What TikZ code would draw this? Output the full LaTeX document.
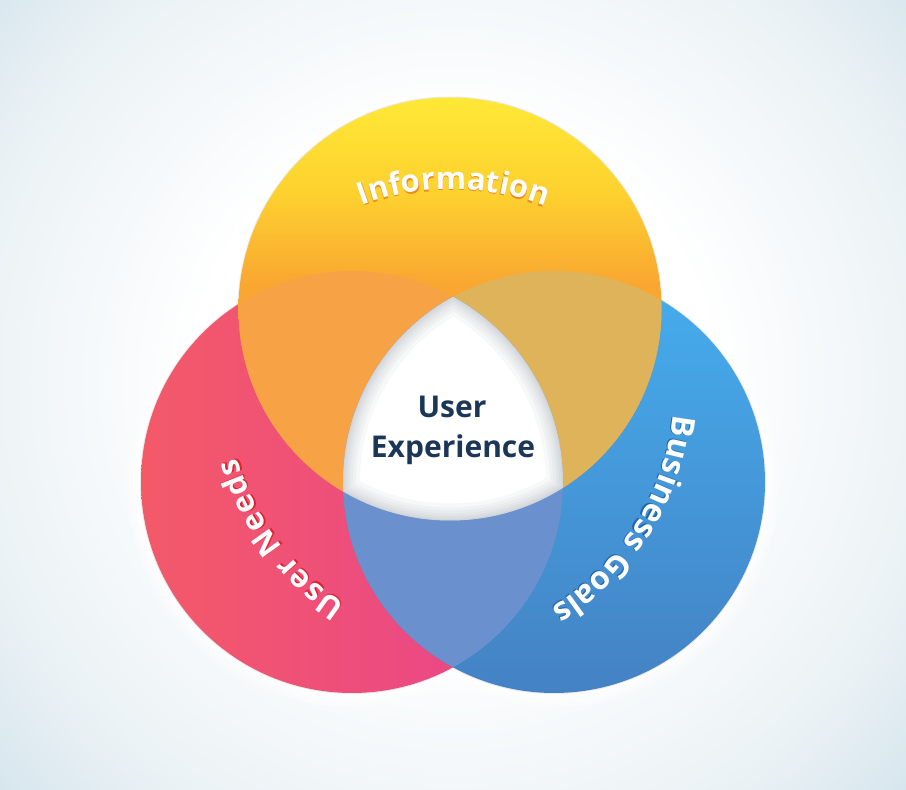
\documentclass[tikz,border=0pt]{standalone}
\usepackage{fontspec}
\newfontfamily\osans{Open Sans}
\usetikzlibrary{decorations.text,calc}
\definecolor{bgc}{HTML}{D2E3EC}
\definecolor{bgm}{HTML}{EBF2F5}
\definecolor{ttop}{HTML}{FFE836}
\definecolor{tinfo}{HTML}{FDD22F}
\definecolor{tmid}{HTML}{F9A731}
\definecolor{tbot}{HTML}{F7A02E}
\definecolor{lleft}{HTML}{F35A68}
\definecolor{lright}{HTML}{E8428F}
\definecolor{rtop}{HTML}{45AEEE}
\definecolor{rbot}{HTML}{4482C4}
\definecolor{ovtl}{HTML}{F6A245}
\definecolor{ovtr}{HTML}{DEB35A}
\definecolor{ovlr}{HTML}{6A90CE}
\definecolor{navy}{HTML}{1B3656}
\definecolor{shinfo}{HTML}{EE8A22}
\definecolor{shneeds}{HTML}{E2202E}
\definecolor{shbiz}{HTML}{1F66B0}
\definecolor{innersh}{HTML}{8E98A4}
\pgfdeclareradialshading{bgshade}{\pgfpoint{0bp}{0bp}}{color(0bp)=(white); color(10bp)=(white); color(19bp)=(bgm); color(25bp)=(bgc); color(50bp)=(bgc)}
\pgfdeclareverticalshading{tshade}{100bp}{color(0bp)=(tbot); color(25bp)=(tbot); color(53bp)=(tmid); color(64bp)=(tinfo); color(75bp)=(ttop); color(100bp)=(ttop)}
\tikzset{
  arctext/.style={decorate, decoration={text along path, text align={fit to path}, text color=#1}},
  labelfont/.style={font=\osans\bfseries\fontsize{30}{30}\selectfont, text=navy, inner sep=0pt}
}
\newcommand{\circT}{(450,481) circle (211.5)}
\newcommand{\circL}{(352,308) circle (211)}
\newcommand{\circR}{(554,308) circle (211)}
\newcommand{\arcInfo}{($(452,346)+(110.7:255)$) arc[start angle=110.7, end angle=69.5, radius=255]}
\newcommand{\arcNeeds}{($(486,402)+(237.0:258)$) arc[start angle=237.0, end angle=195.6, radius=258]}
\newcommand{\arcBiz}{($(418,402)+(-6.0:257)$) arc[start angle=-6.0, end angle=-58.9, radius=257]}
\begin{document}
\begin{tikzpicture}[x=1pt,y=1pt]
\useasboundingbox (0,0) rectangle (906,790);
% background
\fill[bgc] (0,0) rectangle (906,790);
\begin{scope}
  \clip (0,0) rectangle (906,790);
  \shade[shading=bgshade] (453,410) circle (640);
\end{scope}
% outer glow
\foreach \w/\o in {28/0.25, 20/0.35, 12/0.5, 5/0.7}{
  \draw[white, line width=\w, opacity=\o] \circT \circL \circR;
}
\draw[black, opacity=0.08, line width=2] \circT \circL \circR;
% circles
\shade[left color=lleft, right color=lright] \circL;
\shade[top color=rtop, bottom color=rbot] \circR;
\shade[shading=tshade] \circT;
% pairwise overlaps
\begin{scope}
  \clip \circT; \fill[ovtl] \circL;
\end{scope}
\begin{scope}
  \clip \circT; \fill[ovtr] \circR;
\end{scope}
\begin{scope}
  \clip \circL; \fill[ovlr] \circR;
\end{scope}
% centre region with inner shadow
\begin{scope}
  \clip \circT; \clip \circL; \clip \circR;
  \fill[white] (0,0) rectangle (906,790);
  \foreach \w in {34,26,20,14,9,5,2}{
    \draw[innersh, opacity=0.065, line width=\w] \circT \circL \circR;
  }
\end{scope}
% centre label
\node[labelfont, anchor=base] (ux1) at (452,372) {User};
\node[labelfont, anchor=base] (ux2) at (453,332) {Experience};
% curved labels: shadow then white
\path[arctext=shinfo, decoration={raise=-1.6pt, text={|\osans\bfseries\fontsize{31}{31}\selectfont|Information}}] \arcInfo;
\path[arctext=white, decoration={text={|\osans\bfseries\fontsize{31}{31}\selectfont|Information}}] \arcInfo;
\path[arctext=shneeds, decoration={raise=-1.6pt, text={|\osans\bfseries\fontsize{31}{31}\selectfont|User Needs}}] \arcNeeds;
\path[arctext=white, decoration={text={|\osans\bfseries\fontsize{31}{31}\selectfont|User Needs}}] \arcNeeds;
\path[arctext=shbiz, decoration={raise=-1.6pt, text={|\osans\bfseries\fontsize{32}{32}\selectfont|Business Goals}}] \arcBiz;
\path[arctext=white, decoration={text={|\osans\bfseries\fontsize{32}{32}\selectfont|Business Goals}}] \arcBiz;
\end{tikzpicture}
\end{document}
